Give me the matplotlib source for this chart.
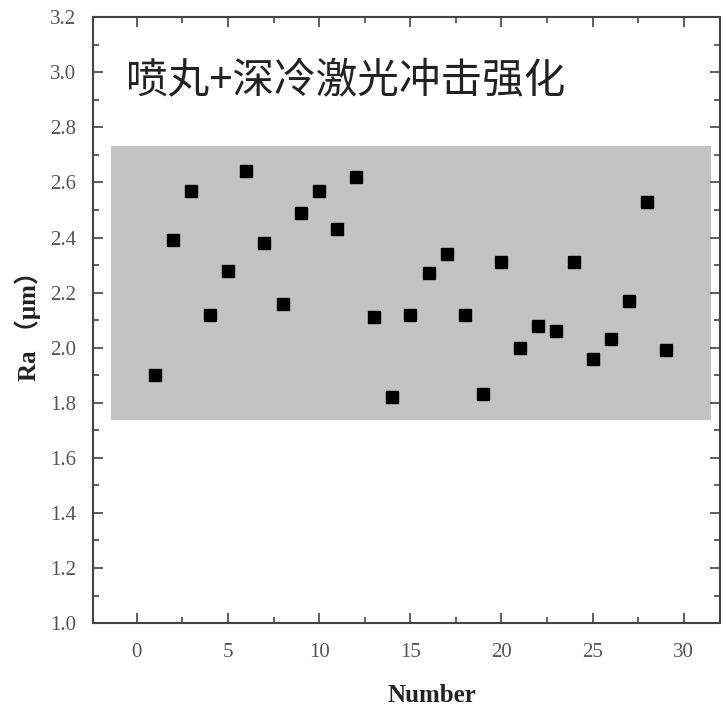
import numpy as np
import matplotlib
matplotlib.use("Agg")
import matplotlib.pyplot as plt
from matplotlib.patches import Rectangle
from matplotlib.ticker import MultipleLocator

# data
number = list(range(1, 30))
ra = [1.90, 2.39, 2.57, 2.12, 2.28, 2.64, 2.38, 2.16, 2.49, 2.57,
      2.43, 2.62, 2.11, 1.82, 2.12, 2.27, 2.34, 2.12, 1.83, 2.31,
      2.00, 2.08, 2.06, 2.31, 1.96, 2.03, 2.17, 2.53, 1.99]
band_x = (-1.43, 31.5)
band_y = (1.737, 2.732)
title = "喷丸+深冷激光冲击强化"

serif = ["Liberation Serif", "Noto Sans CJK SC", "DejaVu Sans"]

fig = plt.figure(figsize=(7.21, 7.17), dpi=100)
ax = fig.add_axes([0.129, 0.131, 0.87, 0.845])

ax.add_patch(Rectangle((band_x[0], band_y[0]), band_x[1] - band_x[0],
                       band_y[1] - band_y[0], facecolor="#c3c3c3",
                       edgecolor="none", zorder=0))
ax.plot(number, ra, "s", color="black", markersize=8.5, zorder=3)

ax.text(-0.6, 2.965, title, fontsize=30, color="#222222",
        family=["Noto Sans CJK SC", "DejaVu Sans"], va="center", ha="left")

ax.set_xlim(-2.4, 32.0)
ax.set_ylim(1.0, 3.2)
ax.xaxis.set_major_locator(MultipleLocator(5))
ax.xaxis.set_minor_locator(MultipleLocator(2.5))
ax.yaxis.set_major_locator(MultipleLocator(0.2))
ax.yaxis.set_minor_locator(MultipleLocator(0.1))

ax.tick_params(which="both", direction="in", top=True, right=True,
               color="#444444", width=1.2)
ax.tick_params(which="major", length=7, labelsize=15, labelcolor="#555555")
ax.tick_params(axis="x", which="major", pad=14)
ax.tick_params(axis="y", which="major", pad=12)
ax.tick_params(which="minor", length=4)
for lab in ax.get_xticklabels() + ax.get_yticklabels():
    lab.set_family(serif)
for s in ax.spines.values():
    s.set_color("#444444")
    s.set_linewidth(1.5)

ax.set_xlabel("Number", fontsize=18, fontweight="bold", family=serif,
              color="#222222")
ax.xaxis.set_label_coords(0.54, -0.10)
ax.set_ylabel("Ra （μm）", fontsize=18, fontweight="bold", family=serif,
              color="#222222")
ax.yaxis.set_label_coords(-0.083, 0.5)

fig.savefig("out.png", dpi=100)
